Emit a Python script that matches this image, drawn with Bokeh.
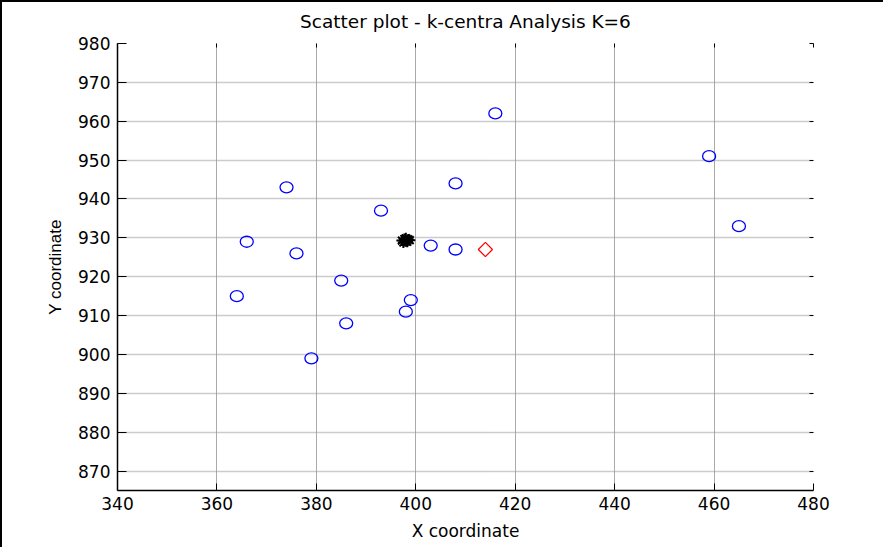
from bokeh.plotting import figure
from bokeh.models import Range1d, LinearAxis, FixedTicker
from bokeh.embed import file_html
from bokeh.resources import INLINE
import math

# ---- data ----
pts_x = [416, 459, 465, 374, 408, 393, 366, 376, 403, 408, 385, 364, 399, 398, 386, 379]
pts_y = [962, 951, 933, 943, 944, 937, 929, 926, 928, 927, 919, 915, 914, 911, 908, 899]
medoid_x = [414]
medoid_y = [927]
centre_x = [397.2, 397.7, 398.3, 398.8, 397.5, 398.0, 398.5, 397.9]
centre_y = [929.3, 929.7, 929.0, 929.4, 928.8, 929.9, 929.6, 929.1]
x_ticks = [340, 360, 380, 400, 420, 440, 460, 480]
y_ticks = [870, 880, 890, 900, 910, 920, 930, 940, 950, 960, 970, 980]
title_text = "Scatter plot - k-centra Analysis K=6"

TXT_FONT = "DejaVu Sans"

p = figure(width=883, height=547,
           x_range=Range1d(340, 480), y_range=Range1d(865, 980),
           output_backend="svg", toolbar_location=None,
           min_border_left=115, min_border_right=72,
           min_border_top=41, min_border_bottom=59,
           x_axis_label="X coordinate", y_axis_label="Y coordinate")
p.styles = {"border-left": "2px solid black", "border-top": "2px solid black"}
p.background_fill_color = "white"
p.border_fill_color = "white"
p.outline_line_color = None

for ax, ticks in ((p.xaxis[0], x_ticks), (p.yaxis[0], y_ticks)):
    ax.ticker = FixedTicker(ticks=ticks)
    ax.major_tick_out = 0
    ax.minor_tick_line_color = None
    ax.major_tick_line_color = "black"
    ax.axis_line_color = "black"
    ax.axis_line_width = 1.5
    ax.major_label_text_font = TXT_FONT
    ax.major_label_text_font_size = "17px"
    ax.major_label_text_color = "black"
    ax.axis_label_text_font_style = "normal"
    ax.axis_label_text_font_size = "17px"
    ax.axis_label_text_color = "black"

p.xaxis[0].major_tick_in = 7
p.yaxis[0].major_tick_in = 9
p.xaxis[0].major_label_standoff = 6
p.yaxis[0].major_label_standoff = 7
p.xaxis[0].axis_label_standoff = 8
p.yaxis[0].axis_label_standoff = 10
p.xaxis[0].axis_label_text_font = TXT_FONT
p.yaxis[0].axis_label_text_font = "Liberation Sans"

# box ticks on the right and top; the top one carries the title text
for side, ticks, tin in (("right", y_ticks, 4), ("above", x_ticks, 4)):
    ax = LinearAxis(ticker=FixedTicker(ticks=ticks))
    ax.major_tick_out = 0
    ax.major_tick_in = tin
    ax.minor_tick_line_color = None
    ax.axis_line_color = None
    ax.major_label_text_alpha = 0
    ax.major_label_text_font_size = "1px"
    ax.major_label_standoff = 0
    if side == "above":
        ax.axis_label = title_text
        ax.axis_label_text_font = TXT_FONT
        ax.axis_label_text_font_size = "18.5px"
        ax.axis_label_text_font_style = "normal"
        ax.axis_label_text_color = "black"
        ax.axis_label_standoff = 12
    p.add_layout(ax, side)

p.xgrid.ticker = FixedTicker(ticks=x_ticks)
p.ygrid.ticker = FixedTicker(ticks=y_ticks)
p.xgrid.grid_line_color = "#555555"
p.xgrid.grid_line_dash = "1 1"
p.xgrid.grid_line_width = 1
p.ygrid.grid_line_color = "#999999"
p.ygrid.grid_line_dash = "1 1"
p.ygrid.grid_line_width = 1.5

p.ellipse(x=pts_x, y=pts_y, width=13, height=11,
          width_units="screen", height_units="screen",
          fill_color=None, line_color="#0000ff", line_width=1.3)
p.scatter(x=medoid_x, y=medoid_y, marker="square", angle=math.pi / 4,
          size=10, fill_color=None, line_color="#ff0000", line_width=1.2)
p.scatter(x=centre_x, y=centre_y, marker="asterisk", size=11,
          line_color="black", line_width=2)

open("out.html", "w").write(file_html(p, INLINE))
